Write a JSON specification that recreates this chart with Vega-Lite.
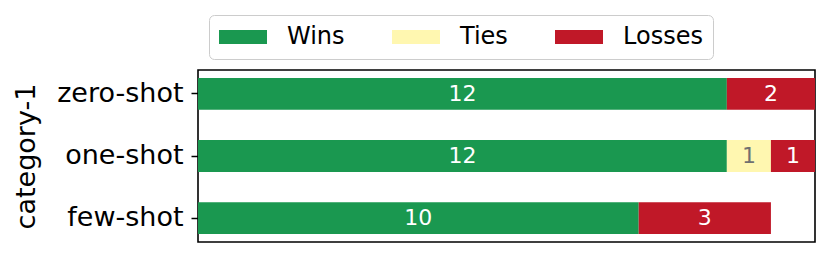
{
  "$schema": "https://vega.github.io/schema/vega-lite/v6.json",
  "width": 617,
  "height": 172,
  "autosize": {"type": "none"},
  "padding": {"left": 198, "top": 70, "right": 16, "bottom": 16},
  "background": "white",
  "config": {
    "font": "DejaVu Sans",
    "view": {"stroke": "black", "strokeWidth": 1.6}
  },
  "data": {
    "values": [
      {"setting": "zero-shot", "outcome": "Wins", "k": 0, "n": 12},
      {"setting": "zero-shot", "outcome": "Ties", "k": 1, "n": 0},
      {"setting": "zero-shot", "outcome": "Losses", "k": 2, "n": 2},
      {"setting": "one-shot", "outcome": "Wins", "k": 0, "n": 12},
      {"setting": "one-shot", "outcome": "Ties", "k": 1, "n": 1},
      {"setting": "one-shot", "outcome": "Losses", "k": 2, "n": 1},
      {"setting": "few-shot", "outcome": "Wins", "k": 0, "n": 10},
      {"setting": "few-shot", "outcome": "Ties", "k": 1, "n": 0},
      {"setting": "few-shot", "outcome": "Losses", "k": 2, "n": 3}
    ]
  },
  "transform": [
    {"stack": "n", "groupby": ["setting"], "sort": [{"field": "k", "order": "ascending"}], "as": ["x0", "x1"]},
    {"calculate": "(datum.x0 + datum.x1) / 2", "as": "xm"}
  ],
  "encoding": {
    "y": {
      "field": "setting",
      "type": "nominal",
      "sort": ["zero-shot", "one-shot", "few-shot"],
      "scale": {"paddingInner": 0.488, "paddingOuter": 0.128},
      "axis": {
        "title": "category-1",
        "titleFontSize": 27,
        "titleFontWeight": "normal",
        "titleColor": "black",
        "titlePadding": 16,
        "labelFontSize": 27,
        "labelColor": "black",
        "labelPadding": 8,
        "tickColor": "black",
        "tickSize": 7,
        "tickWidth": 1.5,
        "domain": false
      }
    }
  },
  "layer": [
    {
      "mark": {"type": "bar"},
      "encoding": {
        "x": {"field": "x0", "type": "quantitative", "scale": {"domain": [0, 14], "nice": false}, "axis": null},
        "x2": {"field": "x1"},
        "color": {
          "field": "outcome",
          "type": "nominal",
          "scale": {"domain": ["Wins", "Ties", "Losses"], "range": ["#1a9850", "#fff7b0", "#c01828"]},
          "legend": {
            "title": null,
            "orient": "none",
            "legendX": 11,
            "legendY": -55,
            "direction": "horizontal",
            "strokeColor": "#cccccc",
            "cornerRadius": 5,
            "padding": 10,
            "fillColor": "white",
            "symbolType": "M-1,-0.58L3,-0.58L3,0.58L-1,0.58Z",
            "symbolSize": 576,
            "symbolStrokeWidth": 0,
            "symbolOpacity": 1,
            "labelFontSize": 24,
            "labelColor": "black",
            "labelOffset": 44,
            "columnPadding": 47
          }
        }
      }
    },
    {
      "transform": [{"filter": "datum.n > 0"}],
      "mark": {"type": "text", "fontSize": 22, "baseline": "middle", "align": "center"},
      "encoding": {
        "x": {"field": "xm", "type": "quantitative"},
        "text": {"field": "n", "type": "quantitative"},
        "color": {"condition": {"test": "datum.outcome === 'Ties'", "value": "#707070"}, "value": "white"}
      }
    }
  ]
}
